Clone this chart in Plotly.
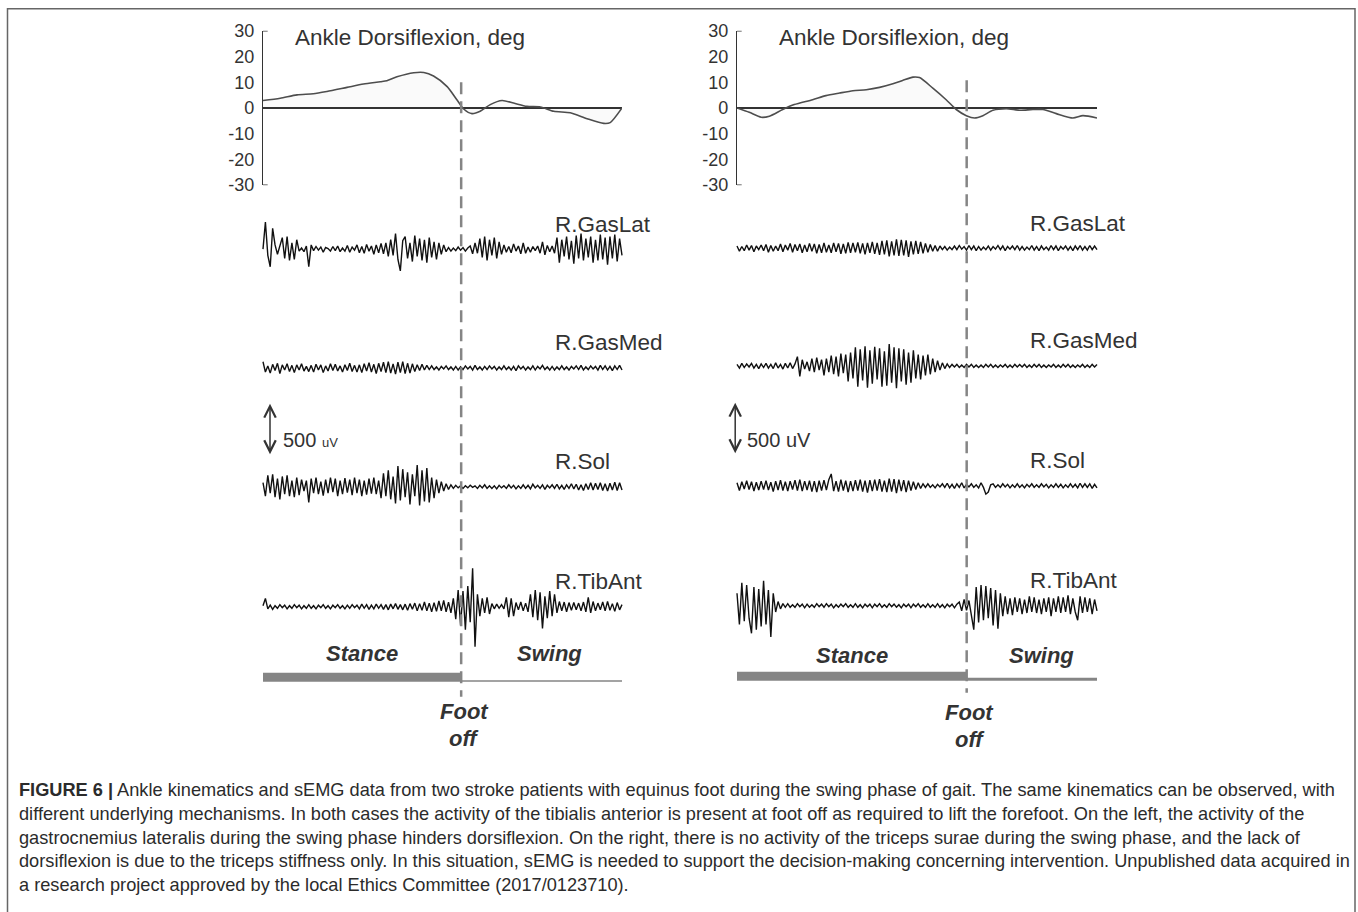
import numpy as np
import plotly.graph_objects as go

W, H = 1358, 912

# ---------------- data ----------------
foot_off_pct = [55.2, 63.8]          # % of gait cycle at foot off (left, right patient)

kin_pct_left = [0, 4.8, 9.5, 14, 17.8, 23.4, 28, 32.7, 34.5, 37.3, 42, 44.8, 47.5, 51.3, 54,
                55.9, 58.2, 60.5, 63.3, 66.6, 69.8, 73.5, 77.3, 81, 85.6, 90.3, 94.9, 96.7, 100]
kin_deg_left = [2.9, 3.8, 5.1, 5.5, 6.4, 8.0, 9.3, 10.2, 10.6, 12.1, 13.7, 13.8, 12.4, 8.3, 3.2,
                -0.4, -2.2, -1.3, 1.3, 2.9, 1.9, 0.6, 0.4, -1.3, -1.9, -4.2, -6.0, -5.7, 0]
kin_pct_right = [0, 3.4, 6.7, 9, 12.7, 15.9, 21, 24.7, 28.5, 32.2, 35.9, 39.6, 43.3, 46, 48.9, 50.7,
                 54.4, 58.1, 60.9, 63.7, 66, 68.3, 71.1, 74.8, 78.5, 82.2, 85, 88.7, 93.3, 96.1, 100]
kin_deg_right = [0, -1.7, -3.6, -3.2, -0.6, 1.3, 3.2, 4.8, 5.8, 6.7, 7.1, 8.0, 9.4, 10.7, 12.0, 11.8,
                 7.7, 3.2, -0.6, -3.0, -3.9, -3.0, -0.9, -0.3, -0.9, -0.6, -0.6, -2.2, -3.9, -3.0, -3.9]
kin_ticks = [30, 20, 10, 0, -10, -20, -30]
kin_title = "Ankle Dorsiflexion, deg"

muscles = ["R.GasLat", "R.GasMed", "R.Sol", "R.TibAnt"]

# sEMG samples in uV, 150 samples spread over the gait cycle
emg_left_gaslat = [0, 260, -60, -170, 200, 40, -50, 20, 110, -90,
                   120, -110, 60, -100, 90, -20, 10, -25, 30, -170,
                   40, -15, 25, -10, 20, -30, 15, 5, -20, 25,
                   -15, 30, -25, 10, -20, 35, -30, 20, -10, 40,
                   -35, 25, -40, 45, -20, 30, -50, 40, -35, 55,
                   -45, 60, -70, 90, -60, 150, -100, -210, 80, 120,
                   -90, 60, -120, 130, -70, 100, -110, 90, -130, 110,
                   -80, 70, -100, 60, -50, 40, -25, 15, -20, 10,
                   -15, 20, -10, 15, -20, 10, 30, -45, 60, -40,
                   100, -80, 120, -110, 90, -60, 110, -90, 70, -50,
                   40, -30, 25, -35, 50, -20, 30, -45, 60, -40,
                   20, -30, 25, -15, 30, -40, 70, -55, 35, -25,
                   30, -40, 110, -130, 90, -70, 120, -100, 80, -140,
                   130, -90, 150, -110, 100, -80, 120, -130, 90, -110,
                   140, -100, 110, -150, 120, -90, 140, -120, 100, -60]
emg_left_gasmed = [60, -40, 20, -50, 35, -25, 45, -55, 30, -20,
                   40, -35, 25, -45, 30, -20, 40, -30, 15, -35,
                   25, -40, 35, -20, 30, -45, 20, -30, 40, -25,
                   35, -30, 20, -40, 30, -25, 45, -35, 25, -40,
                   30, -45, 40, -30, 50, -40, 35, -55, 45, -35,
                   55, -45, 60, -50, 40, -60, 55, -45, 60, -55,
                   45, -50, 40, -35, 30, -25, 35, -20, 25, -15,
                   20, -15, 10, -20, 15, -10, 20, -15, 10, -20,
                   15, -20, 10, -15, 20, -10, 15, -20, 25, -15,
                   10, -20, 15, -15, 20, -10, 15, -20, 10, -15,
                   20, -15, 10, -20, 15, -25, 20, -10, 15, -20,
                   10, -15, 20, -20, 15, -10, 25, -15, 10, -20,
                   15, -20, 10, -15, 20, -15, 10, -20, 15, -10,
                   20, -15, 25, -20, 10, -15, 20, -10, 15, -20,
                   25, -15, 20, -20, 15, -25, 20, -15, 25, -20]
emg_left_sol = [40, -90, 110, -60, 120, -100, 80, -120, 100, -70,
                110, -90, 60, -100, 90, -80, 70, -40, 60, -150,
                80, -60, 90, -70, 50, -85, 70, -60, 90, -50,
                80, -90, 60, -70, 85, -55, 70, -80, 90, -60,
                70, -90, 60, -75, 80, -65, 90, -70, 60, -110,
                130, -90, 160, -120, 100, -160, 200, -130, 170, -100,
                140, -170, 120, -90, 210, -180, 160, -140, 180, -150,
                90, -110, 70, -60, 50, -40, 30, -25, 20, -15,
                15, -10, 10, -15, 10, -10, 15, -5, 10, -15,
                15, -10, 20, -15, 10, -15, 10, -20, 15, -10,
                10, -15, 20, -10, 15, -20, 10, -15, 20, -15,
                15, -20, 25, -10, 15, -15, 20, -25, 15, -10,
                20, -15, 25, -20, 15, -25, 20, -15, 30, -20,
                25, -30, 20, -35, 30, -25, 40, -30, 35, -25,
                40, -35, 30, -40, 35, -30, 45, -35, 40, -30]
emg_left_tibant = [10, 80, -20, 15, -25, 10, -15, 20, -10, 15,
                   -20, 10, -15, 20, -10, 15, -20, 10, -15, 20,
                   -15, 10, -20, 15, -10, 20, -15, 10, -20, 15,
                   -10, 20, -15, 10, -20, 15, -15, 20, -10, 15,
                   -20, 25, -15, 20, -25, 15, -20, 25, -15, 20,
                   -25, 20, -30, 25, -20, 30, -25, 20, -30, 25,
                   -35, 30, -25, 35, -40, 30, -35, 45, -40, 35,
                   -50, 40, -45, 55, -40, 60, -50, 45, -60, 80,
                   -120, 160, -180, 150, -220, 200, -150, 370, -385, 120,
                   -90, 80, -60, 90, -70, 30, -20, 25, -15, 20,
                   -20, 90, -100, 80, -90, 40, -30, 45, -40, 35,
                   -50, 120, -100, 160, -130, 140, -210, 100, -110, 150,
                   -90, 120, -60, 50, -40, 45, -50, 40, -35, 40,
                   -30, 35, -40, 45, -50, 90, -60, 50, -40, 35,
                   -30, 45, -40, 50, -35, 30, -45, 40, -30, 20]
emg_right_gaslat = [20, -30, 15, -25, 30, -20, 25, -35, 20, -15,
                    30, -25, 35, -40, 25, -30, 20, -25, 40, -35,
                    30, -20, 45, -40, 35, -25, 40, -45, 30, -35,
                    45, -30, 40, -50, 35, -45, 50, -40, 30, -45,
                    50, -35, 45, -55, 40, -50, 55, -45, 50, -40,
                    55, -50, 45, -60, 50, -45, 60, -55, 50, -65,
                    70, -60, 75, -80, 65, -70, 85, -75, 80, -70,
                    75, -85, 65, -60, 70, -55, 60, -50, 45, -40,
                    35, -30, 25, -30, 20, -15, 15, -20, 10, -15,
                    20, -15, 25, -10, 15, -20, 25, -15, 20, -25,
                    15, -20, 10, -15, 20, -20, 15, -10, 25, -15,
                    20, -25, 15, -10, 20, -15, 25, -20, 15, -20,
                    10, -15, 25, -20, 15, -25, 20, -15, 10, -20,
                    25, -15, 20, -25, 15, -10, 20, -20, 15, -25,
                    20, -15, 25, -20, 15, -20, 25, -15, 20, -15]
emg_right_gasmed = [15, -20, 25, -15, 20, -10, 25, -20, 15, -25,
                    20, -15, 25, -20, 15, -25, 30, -20, 15, -30,
                    25, -20, 30, -25, 20, 90, -100, 60, -30, 40,
                    -50, 70, -60, 80, -40, 60, -90, 70, -60, 100,
                    -80, 90, -100, 120, -70, 110, -150, 130, -120, 180,
                    -200, 160, -140, 190, -210, 150, -170, 185, -130, 170,
                    -200, 140, -190, 210, -160, 180, -215, 170, -150, 160,
                    -180, 130, -160, 150, -120, 110, -130, 100, -90, 110,
                    -80, 70, -60, 50, -40, 30, -25, 20, -15, 15,
                    -10, 15, -15, 10, -15, 15, -10, 15, -15, 10,
                    -15, 10, -15, 15, -10, 15, -15, 10, -15, 10,
                    -10, 15, -15, 10, -15, 15, -10, 15, -10, 15,
                    -15, 10, -15, 15, -10, 15, -15, 10, -15, 10,
                    -10, 15, -15, 10, -15, 15, -10, 15, -15, 10,
                    -15, 10, -10, 15, -15, 10, -15, 15, -10, 15]
emg_right_sol = [30, -45, 40, -30, 50, -35, 40, -50, 35, -40,
                 45, -35, 50, -40, 35, -55, 45, -40, 55, -45,
                 40, -50, 45, -35, 55, -45, 60, -50, 45, -40,
                 50, -55, 45, -60, 50, -45, 55, -40, 60, 115,
                 -50, 45, -55, 60, -45, 50, -60, 45, -50, 55,
                 -45, 60, -55, 50, -65, 55, -50, 60, -45, 65,
                 -55, 50, -60, 70, -55, 65, -70, 60, -50, 55,
                 -60, 50, -45, 40, -35, 30, -25, 20, -15, 20,
                 -15, 10, -20, 15, -10, 20, -15, 25, -20, 15,
                 -25, 20, -15, 30, -20, 15, -10, 20, -15, 10,
                 -20, 30, -15, -80, -60, 10, 20, -15, 10, -15,
                 20, -10, 15, -20, 10, -15, 20, -15, 10, -20,
                 15, -10, 20, -15, 10, -15, 20, -10, 15, -20,
                 10, -15, 20, -15, 15, -20, 10, -15, 20, -15,
                 15, -20, 25, -15, 20, -15, 20, -25, 15, -20]
emg_right_tibant = [120, -180, 220, -150, 200, -120, -265, 180, -230, 160,
                    -200, 240, -180, 150, -300, 120, -60, 40, -30, 20,
                    -15, 20, -15, 10, -15, 20, -10, 15, -20, 15,
                    -15, 10, -15, 20, -10, 15, -15, 20, -10, 15,
                    -20, 10, -15, 15, -10, 20, -15, 10, -15, 20,
                    -15, 10, -20, 15, -10, 15, -20, 15, -10, 20,
                    -15, 10, -15, 20, -10, 15, -15, 10, -20, 15,
                    -10, 15, -20, 15, -10, 20, -15, 10, -15, 20,
                    -15, 10, -15, 20, -15, 10, -20, 15, -10, 15,
                    -20, 15, 35, -50, 60, -45, 50, -80, -230, 180,
                    -160, 200, -140, 190, -120, 170, -190, 150, -220, 120,
                    -100, 90, -80, 70, -90, 80, -60, 70, -80, 60,
                    -70, 90, -60, 80, -70, 60, -80, 70, -60, 80,
                    -100, 70, -60, 90, -70, 80, -60, 100, -80, 70,
                    -60, -140, 90, -70, 80, -60, 70, -80, 60, -50]

scale_bar_uv = 500
scale_labels = ["500 <span style='font-size:13px'>uV</span>", "500 uV"]
phase_labels = ["Stance", "Swing"]
foot_off_label = ["Foot", "off"]

caption_lines = [
    "<b>FIGURE 6 |</b> Ankle kinematics and sEMG data from two stroke patients with equinus foot during the swing phase of gait. The same kinematics can be observed, with",
    "different underlying mechanisms. In both cases the activity of the tibialis anterior is present at foot off as required to lift the forefoot. On the left, the activity of the",
    "gastrocnemius lateralis during the swing phase hinders dorsiflexion. On the right, there is no activity of the triceps surae during the swing phase, and the lack of",
    "dorsiflexion is due to the triceps stiffness only. In this situation, sEMG is needed to support the decision-making concerning intervention. Unpublished data acquired in",
    "a research project approved by the local Ethics Committee (2017/0123710).",
]

kin_pct = [kin_pct_left, kin_pct_right]
kin_deg = [kin_deg_left, kin_deg_right]
emg = [[emg_left_gaslat, emg_left_gasmed, emg_left_sol, emg_left_tibant],
       [emg_right_gaslat, emg_right_gasmed, emg_right_sol, emg_right_tibant]]

# ---------------- layout constants (pixels) ----------------
FONT = "Liberation Sans, Arial, sans-serif"
TXT = "#333333"
GREY = "#858585"
panel_x0 = [263, 737]        # pixel of 0 % gait
panel_x100 = [622, 1097]     # pixel of 100 % gait
kin_top, kin_bot = 30.5, 185
emg_base = [[249, 368, 487, 607], [248, 366, 486, 606]]
px_per_500uv = 52.0
row_half = 100
xpad = 2.0
title_x = [293, 777]
label_pct = 80.8
stance_y = [654, 656]
swing_pct = [79.7, 84.7]
bar_top = [673, 672]
bar_bot = [682, 681]
thin_w = [1.5, 3]
dash_y = [(82, 697), (80, 693)]
foot_mid = [725, 726]
scale_pct = [1.95, -0.5]
scale_y0 = 300
scale_text_x = [281, 745]
scale_text_y = 440
# vertical calibration of the rendered page (screen px = OFF + K * layout px)
SY_OFF, SY_K = 9.7, 0.979


def px(v):
    return v / W


def py(v):
    return 1 - ((v - SY_OFF) / SY_K) / H


fig = go.Figure()
layout = dict(width=W, height=H, margin=dict(l=0, r=0, t=0, b=0),
              paper_bgcolor="white", plot_bgcolor="rgba(0,0,0,0)", showlegend=False,
              font=dict(family=FONT, color=TXT))
shapes, annotations = [], []
counter = [0]


def add_axes(xdom, xrng, ydom, yrng, yextra=None):
    counter[0] += 1
    n = counter[0]
    sfx = "" if n == 1 else str(n)
    xa = dict(domain=xdom, range=xrng, visible=False, fixedrange=True, anchor="y" + sfx)
    ya = dict(domain=ydom, range=yrng, visible=False, fixedrange=True, anchor="x" + sfx)
    if yextra:
        ya.update(yextra)
    layout["xaxis" + sfx] = xa
    layout["yaxis" + sfx] = ya
    return "x" + sfx, "y" + sfx


for p in range(2):
    x0, x100 = panel_x0[p], panel_x100[p]
    spp = (x100 - x0) / 100.0
    # ---- kinematics ----
    kx, ky = add_axes([px(x0), px(x100)], [0, 100], [py(kin_bot), py(kin_top)], [-30, 30],
                      dict(visible=True, showline=True, linecolor="#333", linewidth=1.3,
                           tickvals=kin_ticks, ticktext=[str(t) for t in kin_ticks], ticks="",
                           showgrid=False, zeroline=True, zerolinecolor="#333", zerolinewidth=1.5,
                           tickfont=dict(size=18, color=TXT, family=FONT), ticklabelstandoff=4))
    fig.add_trace(go.Scatter(x=kin_pct[p], y=kin_deg[p], mode="lines", xaxis=kx, yaxis=ky,
                             line=dict(color="#4d4d4d", width=1.6, shape="spline", smoothing=0.7),
                             fill="tozeroy", fillcolor="rgba(0,0,0,0.018)", hoverinfo="skip"))
    for yv in (kin_ticks[0], kin_ticks[-1]):
        shapes.append(dict(type="line", xref=kx, yref=ky, x0=0, x1=1.3, y0=yv, y1=yv,
                           line=dict(color="#333", width=1.3)))
    annotations.append(dict(text=kin_title, xref="paper", yref="paper", x=px(title_x[p]), y=py(37),
                            xanchor="left", yanchor="middle", showarrow=False,
                            font=dict(size=22.5, color=TXT, family=FONT)))
    # ---- EMG rows ----
    emg_axes = []
    for k, name in enumerate(muscles):
        b = emg_base[p][k]
        rng_uv = row_half / px_per_500uv * scale_bar_uv
        ex, ey = add_axes([px(x0 - xpad * spp), px(x100 + xpad * spp)], [-xpad, 100 + xpad],
                          [py(b + row_half), py(b - row_half)], [-rng_uv, rng_uv])
        emg_axes.append((ex, ey))
        vals = emg[p][k]
        fig.add_trace(go.Scatter(x=np.linspace(0, 100, len(vals)), y=vals, mode="lines",
                                 xaxis=ex, yaxis=ey, line=dict(color="#111", width=1.4),
                                 hoverinfo="skip"))
        annotations.append(dict(text=name, xref=ex, yref="paper", x=label_pct, y=py(b - 25),
                                xanchor="left", yanchor="middle", showarrow=False,
                                font=dict(size=22.5, color=TXT, family=FONT)))
    # scale bar on the Sol row
    sx, sy = emg_axes[2]
    annotations.append(dict(text="", xref=sx, yref=sy, x=scale_pct[p], y=scale_y0 + scale_bar_uv,
                            axref=sx, ayref=sy, ax=scale_pct[p], ay=scale_y0, showarrow=True,
                            arrowside="end+start", arrowhead=5, startarrowhead=5,
                            arrowsize=1.5, startarrowsize=1.5, arrowwidth=1.5,
                            arrowcolor="#333", standoff=0, startstandoff=0))
    annotations.append(dict(text=scale_labels[p], xref="paper", yref="paper",
                            x=px(scale_text_x[p]), y=py(scale_text_y), xanchor="left",
                            yanchor="middle", showarrow=False,
                            font=dict(size=20, color=TXT, family=FONT)))
    # ---- foot-off dashed line ----
    fo = foot_off_pct[p]
    shapes.append(dict(type="line", xref=kx, yref="paper", x0=fo, x1=fo,
                       y0=py(dash_y[p][0]), y1=py(dash_y[p][1]),
                       line=dict(color=GREY, width=2.5, dash="12px,7px")))
    # ---- stance / swing bars ----
    shapes.append(dict(type="rect", xref=kx, yref="paper", x0=0, x1=fo,
                       y0=py(bar_bot[p]), y1=py(bar_top[p]), fillcolor=GREY, line=dict(width=0)))
    shapes.append(dict(type="line", xref=kx, yref="paper", x0=fo, x1=100,
                       y0=py(bar_bot[p] - thin_w[p] / 2), y1=py(bar_bot[p] - thin_w[p] / 2),
                       line=dict(color=GREY, width=thin_w[p])))
    bold_font = dict(size=22, color=TXT, family=FONT)
    annotations.append(dict(text="<b><i>%s</i></b>" % phase_labels[0], xref=kx, yref="paper",
                            x=fo / 2, y=py(stance_y[p]), showarrow=False, xanchor="center",
                            yanchor="middle", font=bold_font))
    annotations.append(dict(text="<b><i>%s</i></b>" % phase_labels[1], xref=kx, yref="paper",
                            x=swing_pct[p], y=py(stance_y[p]), showarrow=False, xanchor="center",
                            yanchor="middle", font=bold_font))
    annotations.append(dict(text="<b><i>%s</i></b>" % foot_off_label[0], xref=kx, yref="paper",
                            x=fo + 0.8, y=py(foot_mid[p]), showarrow=False, xanchor="center",
                            yanchor="bottom", borderpad=0, font=bold_font))
    annotations.append(dict(text="<b><i>%s</i></b>" % foot_off_label[1], xref=kx, yref="paper",
                            x=fo + 0.8, y=py(foot_mid[p]), showarrow=False, xanchor="center",
                            yanchor="top", borderpad=0, font=bold_font))

# ---- caption ----
for i, line in enumerate(caption_lines):
    annotations.append(dict(text=line, xref="paper", yref="paper", x=px(17), y=py(790 + 24 * i),
                            xanchor="left", yanchor="middle", showarrow=False,
                            font=dict(size=18.2, color="#2b2b2b", family=FONT)))

# ---- frame ----
shapes.append(dict(type="rect", xref="paper", yref="paper", x0=px(7.5), x1=px(1355),
                   y0=py(960), y1=py(8.5), line=dict(color="#666", width=1.5),
                   fillcolor="rgba(0,0,0,0)", layer="above"))

layout["shapes"] = shapes
layout["annotations"] = annotations
fig.update_layout(**layout)

post = ("var gd=document.getElementById('{plot_id}');"
        "document.documentElement.style.margin='0';document.body.style.margin='0';"
        "document.body.style.overflow='hidden';"
        "gd.style.position='fixed';gd.style.left='0px';gd.style.top='0px';")
fig.write_html("out.html", config={"displayModeBar": False}, post_script=post)
